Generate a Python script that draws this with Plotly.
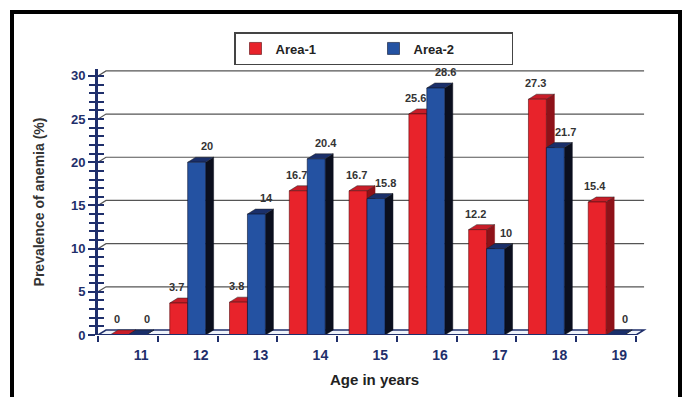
import plotly.graph_objects as go

# ---------------- data ----------------
ages = ["11", "12", "13", "14", "15", "16", "17", "18", "19"]
area1 = [0, 3.7, 3.8, 16.7, 16.7, 25.6, 12.2, 27.3, 15.4]
area2 = [0, 20, 14, 20.4, 15.8, 28.6, 10, 21.7, 0]
y_ticks = [0, 5, 10, 15, 20, 25, 30]
series_names = ["Area-1", "Area-2"]

# ---------------- layout constants ----------------
W, H = 690, 397
L, R, T, B = 98, 39, 69, 62
PW, PH = W - L - R, H - T - B
XR = [-0.5, 8.75]
YR = [0, 30.8]
BW = 0.3          # bar width (category units)
DX, DY = 0.134, 0.58   # 3-D depth offsets (data units)

NAVY = "#1f2f6b"
RED, RED_TOP, RED_SIDE = "#e8232b", "#c81d28", "#8e1219"
BLUE, BLUE_TOP, BLUE_SIDE = "#2452a2", "#1a2f6a", "#0b0f1e"
FONT = "Liberation Sans, Arial, sans-serif"


def px2x(px):
    return (px - L) / PW


def py2y(py):
    return (H - B - py) / PH


pos = list(range(len(ages)))

fig = go.Figure()
fig.add_trace(go.Bar(x=pos, y=area1, width=BW, offset=-BW, name=series_names[0],
                     marker=dict(color=RED, line=dict(color="#5a0a0e", width=0.6))))
fig.add_trace(go.Bar(x=pos, y=area2, width=BW, offset=0, name=series_names[1],
                     marker=dict(color=BLUE, line=dict(color="#0b1430", width=0.6))))
# helper trace for the inner half of the crossing y ticks
fig.add_trace(go.Scatter(x=[None], y=[None], yaxis="y2", showlegend=False, hoverinfo="skip"))

shapes = []
# back-wall gridlines with small depth connector
for v in y_ticks[1:]:
    shapes.append(dict(type="path", xref="x", yref="y", layer="between",
                       path=f"M {-0.5},{v} L {-0.5+DX},{v+DY} L {8.5+DX},{v+DY}",
                       line=dict(color="#555555", width=1.2)))
# floor
shapes.append(dict(type="path", xref="x", yref="y", layer="between",
                   path=f"M -0.5,0 L 8.5,0 L {8.5+DX},{DY} L {-0.5+DX},{DY} Z",
                   fillcolor="#eef3fa", line=dict(color=NAVY, width=1.5)))

# 3-D faces of bars
for vals, off, top_c, side_c in [(area1, -BW, RED_TOP, RED_SIDE), (area2, 0, BLUE_TOP, BLUE_SIDE)]:
    for i, v in zip(pos, vals):
        x0, x1 = i + off, i + off + BW
        shapes.append(dict(type="path", xref="x", yref="y", layer="between",
                           path=f"M {x1},0 L {x1+DX},{DY} L {x1+DX},{v+DY} L {x1},{v} Z",
                           fillcolor=side_c, line=dict(color=side_c, width=0.5)))
        shapes.append(dict(type="path", xref="x", yref="y", layer="between",
                           path=f"M {x0},{v} L {x1},{v} L {x1+DX},{v+DY} L {x0+DX},{v+DY} Z",
                           fillcolor=top_c, line=dict(color="#222", width=0.5)))

# front x-axis line
shapes.append(dict(type="line", xref="x", yref="y", x0=-0.5, x1=8.5, y0=0, y1=0,
                   line=dict(color=NAVY, width=2)))
# outer frame
shapes.append(dict(type="rect", xref="paper", yref="paper",
                   x0=px2x(12), x1=px2x(680), y0=py2y(420), y1=py2y(12),
                   line=dict(color="black", width=4), fillcolor="rgba(0,0,0,0)"))

annotations = []
for vals, off in [(area1, -BW / 2 - 0.1), (area2, BW / 2 + 0.1)]:
    for i, v in zip(pos, vals):
        annotations.append(dict(x=i + off + DX / 2, y=v + DY, xref="x", yref="y",
                                text=f"{v:g}", showarrow=False, yanchor="bottom", yshift=3,
                                font=dict(family=FONT, size=11, color="#333", weight="bold")))

fig.update_layout(
    width=W, height=H,
    margin=dict(l=L, r=R, t=T, b=B, pad=0, autoexpand=False),
    paper_bgcolor="white", plot_bgcolor="white",
    barmode="overlay",
    shapes=shapes, annotations=annotations,
    showlegend=True,
    legend=dict(orientation="h", x=px2x(234), y=py2y(32), xanchor="left", yanchor="top",
                bordercolor="#444", borderwidth=1.5, bgcolor="white",
                entrywidth=93, entrywidthmode="pixels",
                font=dict(family=FONT, size=13, color="#222", weight="bold")),
    xaxis=dict(range=XR, tickvals=[p + 0.22 for p in pos], ticktext=ages, ticks="",
               showgrid=False, zeroline=False, showline=False, ticklabelstandoff=10,
               tickfont=dict(family=FONT, size=14, color=NAVY, weight="bold"),
               minor=dict(tickmode="array", tickvals=[p - 0.5 for p in pos] + [8.5],
                          ticks="outside", ticklen=6, tickwidth=1.5, tickcolor=NAVY, showgrid=False),
               title=dict(text="Age in years", standoff=12,
                          font=dict(family=FONT, size=15, color="#222", weight="bold"))),
    yaxis=dict(range=YR, tickvals=y_ticks, showgrid=False, zeroline=False,
               showline=True, linecolor=NAVY, linewidth=3,
               ticks="outside", ticklen=7, tickwidth=2, tickcolor=NAVY,
               minor=dict(dtick=1, ticks="outside", ticklen=6, tickwidth=1.5, tickcolor=NAVY, showgrid=False),
               tickfont=dict(family=FONT, size=13, color=NAVY, weight="bold"),
               title=dict(text="Prevalence of anemia (%)", standoff=24,
                          font=dict(family=FONT, size=14, color="#333333", weight=600))),
    yaxis2=dict(range=YR, overlaying="y", side="left", showticklabels=False, showgrid=False,
                zeroline=False, tickvals=y_ticks, ticks="inside", ticklen=6, tickwidth=2, tickcolor=NAVY,
                minor=dict(dtick=1, ticks="inside", ticklen=6, tickwidth=1.5, tickcolor=NAVY, showgrid=False)),
)

fig.write_html("out.html")
